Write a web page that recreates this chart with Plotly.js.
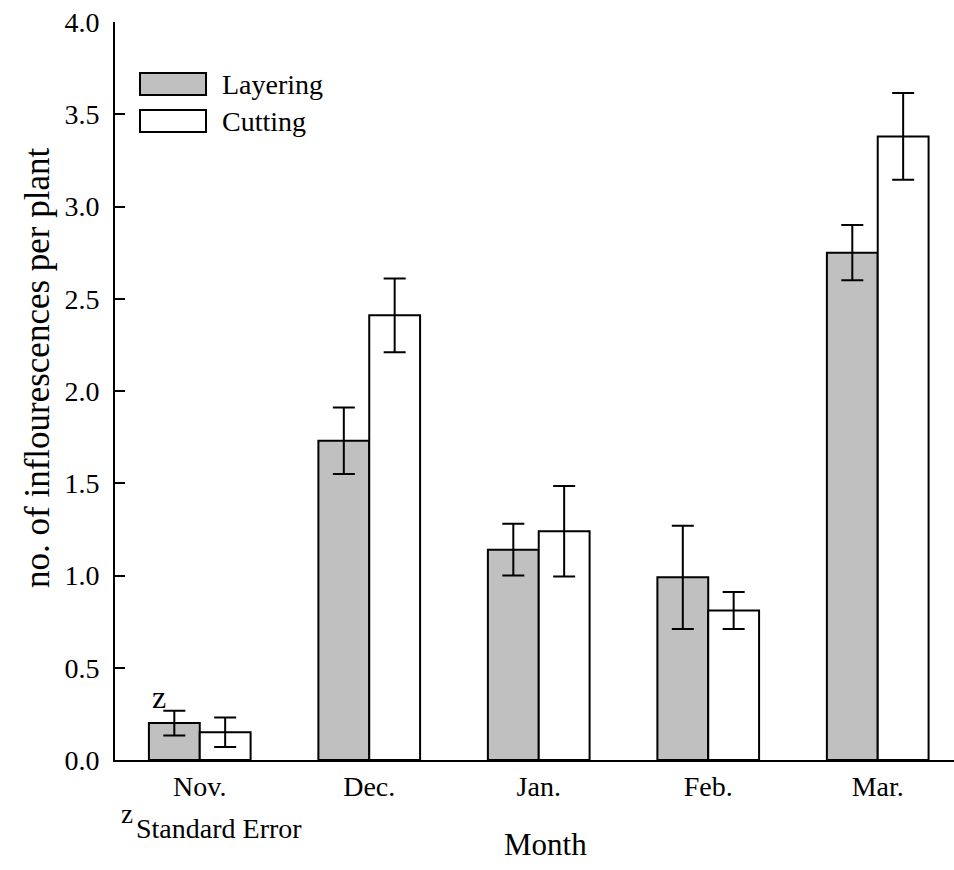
<!DOCTYPE html>
<html>
<head>
<meta charset="utf-8">
<script src="https://cdn.plot.ly/plotly-3.0.1.min.js"></script>
<style>html,body{margin:0;padding:0;background:#fff;}</style>
</head>
<body>
<div id="chart" style="width:954px;height:870px;"></div>
<script>
var months = ["Nov.", "Dec.", "Jan.", "Feb.", "Mar."];
var layering = [0.20, 1.73, 1.14, 0.99, 2.75];
var layeringSE = [0.067, 0.18, 0.14, 0.28, 0.15];
var cutting = [0.15, 2.41, 1.24, 0.81, 3.38];
var cuttingSE = [0.08, 0.20, 0.245, 0.10, 0.235];
var yTicks = [0, 0.5, 1, 1.5, 2, 2.5, 3, 3.5, 4];

var font = "Liberation Serif";

var traces = [
  {type: "bar", name: "Layering", x: months, y: layering,
   marker: {color: "#c0c0c0", line: {color: "#000", width: 2}},
   error_y: {type: "data", array: layeringSE, visible: true, color: "#000", thickness: 2, width: 11},
   showlegend: false},
  {type: "bar", name: "Cutting", x: months, y: cutting,
   marker: {color: "#ffffff", line: {color: "#000", width: 2}},
   error_y: {type: "data", array: cuttingSE, visible: true, color: "#000", thickness: 2, width: 11},
   showlegend: false}
];

var layout = {
  width: 954, height: 870,
  margin: {l: 115, r: 0, t: 22, b: 110},
  paper_bgcolor: "#fff", plot_bgcolor: "#fff",
  font: {family: font, color: "#000", size: 28},
  barmode: "group", bargap: 0.4, bargroupgap: 0,
  xaxis: {
    type: "category", range: [-0.5, 4.45],
    showline: true, linecolor: "#000", linewidth: 2,
    ticks: "", showgrid: false, zeroline: false,
    tickfont: {family: font, size: 28}
  },
  yaxis: {
    range: [0, 4], tickvals: yTicks, tickformat: ".1f",
    showline: true, linecolor: "#000", linewidth: 2,
    ticks: "inside", ticklen: 10, tickwidth: 2, tickcolor: "#000",
    ticklabelstandoff: 8,
    showgrid: false, zeroline: false,
    tickfont: {family: font, size: 28}
  },
  shapes: [
    {type: "rect", xref: "paper", yref: "paper", x0: 25/839, x1: 91/839, y0: 1 - 51/738, y1: 1 - 73/738,
     fillcolor: "#c0c0c0", line: {color: "#000", width: 2}},
    {type: "rect", xref: "paper", yref: "paper", x0: 25/839, x1: 91/839, y0: 1 - 88/738, y1: 1 - 110/738,
     fillcolor: "#fff", line: {color: "#000", width: 2}}
  ],
  annotations: [
    {xref: "paper", yref: "paper", x: -78/839, y: 1 - 346/738, xanchor: "center", yanchor: "middle",
     textangle: -90, text: "no. of inflourescences per plant", showarrow: false, font: {family: font, size: 35}},
    {xref: "paper", yref: "paper", x: 430/839, y: -85/738, xanchor: "center", yanchor: "middle",
     text: "Month", showarrow: false, font: {family: font, size: 31}},
    {xref: "paper", yref: "paper", x: 105/839, y: 1 - 62/738, xanchor: "left", yanchor: "middle",
     text: "Layering", showarrow: false, font: {family: font, size: 28}},
    {xref: "paper", yref: "paper", x: 105/839, y: 1 - 99/738, xanchor: "left", yanchor: "middle",
     text: "Cutting", showarrow: false, font: {family: font, size: 28}},
    {xref: "x", yref: "y", x: "Nov.", xshift: -50, y: layering[0] + layeringSE[0], yshift: -6,
     xanchor: "left", yanchor: "bottom", text: "z", showarrow: false, font: {family: font, size: 32}},
    {xref: "paper", yref: "paper", x: 4/839, y: -54/738, xanchor: "left", yanchor: "middle",
     text: "z", showarrow: false, font: {family: font, size: 27}},
    {xref: "paper", yref: "paper", x: 19/839, y: -68/738, xanchor: "left", yanchor: "middle",
     text: "Standard Error", showarrow: false, font: {family: font, size: 28}}
  ]
};

Plotly.newPlot("chart", traces, layout, {displayModeBar: false, staticPlot: true});
</script>
</body>
</html>
